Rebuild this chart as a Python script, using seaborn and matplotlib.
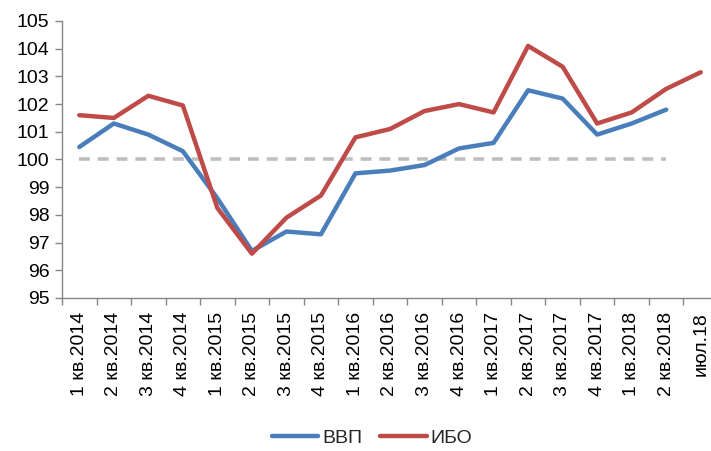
import matplotlib
matplotlib.use("Agg")
import matplotlib.pyplot as plt
import seaborn as sns
import pandas as pd
import numpy as np
from matplotlib.ticker import FixedLocator

categories = ["1 кв.2014", "2 кв.2014", "3 кв.2014", "4 кв.2014",
              "1 кв.2015", "2 кв.2015", "3 кв.2015", "4 кв.2015",
              "1 кв.2016", "2 кв.2016", "3 кв.2016", "4 кв.2016",
              "1 кв.2017", "2 кв.2017", "3 кв.2017", "4 кв.2017",
              "1 кв.2018", "2 кв.2018", "июл.18"]
vvp = [100.45, 101.3, 100.9, 100.3, 98.6, 96.7, 97.4, 97.3,
       99.5, 99.6, 99.8, 100.4, 100.6, 102.5, 102.2, 100.9,
       101.3, 101.8, np.nan]
ibo = [101.6, 101.5, 102.3, 101.95, 98.25, 96.6, 97.9, 98.7,
       100.8, 101.1, 101.75, 102.0, 101.7, 104.1, 103.35, 101.3,
       101.7, 102.55, 103.15]
base = [100] * 18 + [np.nan]

sns.set_theme(style="white")
plt.rcParams['font.family'] = ['Liberation Sans', 'DejaVu Sans']

idx = np.arange(len(categories))
df = pd.DataFrame({
    "x": np.concatenate([idx, idx]),
    "v": vvp + ibo,
    "s": ["ВВП"] * len(idx) + ["ИБО"] * len(idx),
})

fig = plt.figure(figsize=(7.11, 4.51), dpi=100)
ax = fig.add_axes([62 / 711, 153 / 451, (718 - 62) / 711, (298 - 21) / 451])

ax.plot(idx, base, color="#BFBFBF", lw=2.6, ls=(0, (3, 2.2)), zorder=1)
sns.lineplot(data=df, x="x", y="v", hue="s",
             palette={"ВВП": "#4A7EBB", "ИБО": "#BE4B48"},
             lw=3.2, ax=ax, zorder=2)

ax.set_xlim(-0.5, len(categories) - 0.5)
ax.set_ylim(95, 105)
ax.set_yticks(range(95, 106))
ax.set_xticks(idx)
ax.set_xticklabels(categories, rotation=90, fontsize=14)
ax.xaxis.set_minor_locator(FixedLocator(np.arange(-0.5, len(categories), 1)))
ax.tick_params(axis="x", which="major", length=0, pad=10, labelsize=14, labelcolor="black")
ax.tick_params(axis="x", which="minor", length=5, width=1, color="#868686", direction="out", bottom=True)
ax.tick_params(axis="y", length=5, width=1, color="#868686", direction="out", left=True,
               labelsize=14, labelcolor="black", pad=4)
ax.set_xlabel("")
ax.set_ylabel("")
for s in ["top", "right"]:
    ax.spines[s].set_visible(False)
for s in ["left", "bottom"]:
    ax.spines[s].set_color("#868686")
    ax.spines[s].set_linewidth(1)
ax.grid(False)

h, l = ax.get_legend_handles_labels()
ax.legend(h, l, loc="center", bbox_to_anchor=(372 / 711, 13 / 451),
          bbox_transform=fig.transFigure, ncol=2, frameon=False,
          fontsize=14, handlelength=2.4, columnspacing=0.9, handletextpad=0.2)

fig.savefig("out.png", dpi=100)
